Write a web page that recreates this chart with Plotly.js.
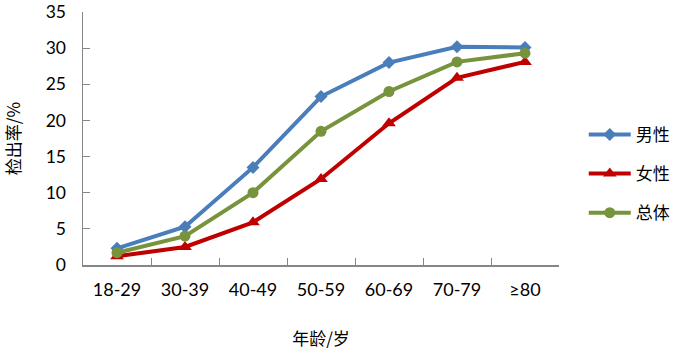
<!DOCTYPE html>
<html>
<head>
<meta charset="utf-8">
<script src="https://cdn.plot.ly/plotly-3.0.1.min.js"></script>
<style>html,body{margin:0;padding:0;background:#fff;}#chart{width:681px;height:352px;}</style>
</head>
<body>
<div id="chart"></div>
<script>
const categories = ["18-29", "30-39", "40-49", "50-59", "60-69", "70-79", "≥80"];
const male = [2.3, 5.3, 13.5, 23.3, 28.0, 30.2, 30.1];
const female = [1.2, 2.5, 5.9, 11.9, 19.6, 25.9, 28.1];
const total = [1.7, 4.0, 10.0, 18.5, 24.0, 28.1, 29.3];
const seriesNames = ["男性", "女性", "总体"];
const yTicks = [0, 5, 10, 15, 20, 25, 30, 35];

const fontFam = "Lato, 'Noto Sans CJK SC', sans-serif";
const cjk = "'Noto Sans CJK SC', sans-serif";

const traces = [
  {x: categories, y: male, name: seriesNames[0], legendgroup: "a", type: "scatter", mode: "lines+markers",
   line: {color: "#4a7ebb", width: 4}, marker: {symbol: "diamond", size: 10, color: "#4a7ebb"}},
  {x: categories, y: female, name: seriesNames[1], legendgroup: "b", type: "scatter", mode: "lines+markers",
   line: {color: "#c00000", width: 4}, marker: {symbol: "triangle-up", size: 12, color: "#c00000"}},
  {x: categories, y: total, name: seriesNames[2], legendgroup: "c", type: "scatter", mode: "lines+markers",
   line: {color: "#77933c", width: 4}, marker: {symbol: "circle", size: 11, color: "#77933c"}}
];

const layout = {
  width: 681, height: 352,
  margin: {l: 83, r: 122, t: 12, b: 87, autoexpand: false},
  paper_bgcolor: "#fff", plot_bgcolor: "#fff",
  font: {family: fontFam, size: 17, color: "#000"},
  showlegend: true,
  legend: {x: 1.052, y: 0.36, xanchor: "left", yanchor: "middle", font: {family: cjk, size: 17},
           itemwidth: 42, tracegroupgap: 14, bgcolor: "rgba(0,0,0,0)"},
  xaxis: {
    type: "category", range: [-0.5, 6.5], tickson: "boundaries", ticks: "inside", ticklen: 7,
    tickcolor: "#868686", showline: true, linecolor: "#868686", linewidth: 1.5, showgrid: false,
    zeroline: false, tickfont: {family: fontFam, size: 18}, ticklabelstandoff: 8,
    title: {text: "年龄/岁", font: {family: cjk, size: 17}, standoff: 34}
  },
  yaxis: {
    range: [0, 35], tickmode: "array", tickvals: yTicks, ticktext: yTicks.map(String),
    ticks: "inside", ticklen: 7, tickcolor: "#868686", ticklabeloverflow: "allow",
    showline: true, linecolor: "#868686", linewidth: 1.5, showgrid: false, zeroline: false,
    tickfont: {family: fontFam, size: 17.5}, ticklabelstandoff: 12,
    title: {text: "检出率/%", font: {family: cjk, size: 17}, standoff: 20}
  }
};

Plotly.newPlot("chart", traces, layout, {displayModeBar: false, staticPlot: true});
</script>
</body>
</html>
